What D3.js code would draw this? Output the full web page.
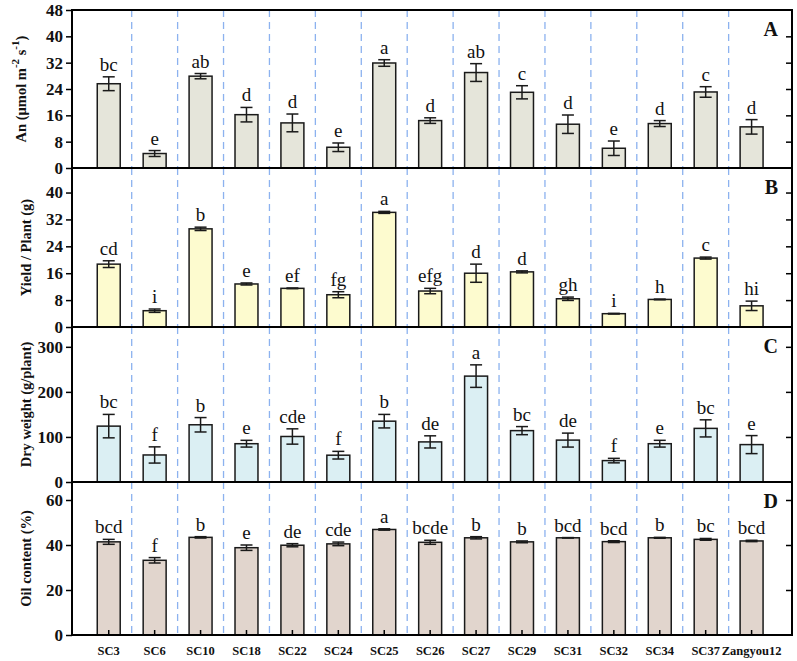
<!DOCTYPE html>
<html>
<head>
<meta charset="utf-8">
<script src="https://cdn.jsdelivr.net/npm/d3@7"></script>
<style>
  body { margin: 0; background: #fff; }
  svg text { font-family: "Liberation Serif", "Times New Roman", serif; }
</style>
</head>
<body>
<div id="chart"></div>
<script>
const categories = ['SC3', 'SC6', 'SC10', 'SC18', 'SC22', 'SC24', 'SC25', 'SC26', 'SC27', 'SC29', 'SC31', 'SC32', 'SC34', 'SC37', 'Zangyou12'];

const anMean = [25.6, 4.4, 27.9, 16.2, 13.7, 6.3, 31.9, 14.4, 29.0, 23.0, 13.3, 6.0, 13.5, 23.1, 12.5];
const anErr = [2.1, 0.9, 0.8, 2.2, 2.7, 1.3, 1.0, 0.85, 2.7, 2.0, 2.8, 2.2, 0.9, 1.6, 2.2];
const anLetters = ['bc', 'e', 'ab', 'd', 'd', 'e', 'a', 'd', 'ab', 'c', 'd', 'e', 'd', 'c', 'd'];

const yieldMean = [18.7, 4.85, 29.2, 12.8, 11.5, 9.6, 34.1, 10.7, 16.0, 16.4, 8.4, 3.96, 8.2, 20.5, 6.3];
const yieldErr = [1.0, 0.5, 0.5, 0.3, 0.1, 0.9, 0.3, 0.8, 2.7, 0.3, 0.5, 0.1, 0.1, 0.3, 1.4];
const yieldLetters = ['cd', 'i', 'b', 'e', 'ef', 'fg', 'a', 'efg', 'd', 'd', 'gh', 'i', 'h', 'c', 'hi'];

const dryMean = [124, 60, 127, 85, 101, 59.5, 135, 89, 235, 114, 93, 47.5, 85, 119, 83];
const dryErr = [26, 18, 16, 7.5, 17, 8.5, 15, 13.5, 25, 9, 15.5, 5, 7.5, 19, 20];
const dryLetters = ['bc', 'f', 'b', 'e', 'cde', 'f', 'b', 'de', 'a', 'bc', 'de', 'f', 'e', 'bc', 'e'];

const oilMean = [41.4, 33.2, 43.4, 38.8, 39.9, 40.5, 46.9, 41.2, 43.2, 41.4, 43.2, 41.5, 43.2, 42.5, 41.8];
const oilErr = [1.1, 1.2, 0.3, 1.2, 0.7, 0.8, 0.3, 0.9, 0.5, 0.4, 0.1, 0.4, 0.2, 0.4, 0.3];
const oilLetters = ['bcd', 'f', 'b', 'e', 'de', 'cde', 'a', 'bcde', 'b', 'b', 'bcd', 'bcd', 'b', 'bc', 'bcd'];

const anTicks = [0, 8, 16, 24, 32, 40, 48];
const yieldTicks = [0, 8, 16, 24, 32, 40];
const dryTicks = [0, 100, 200, 300];
const oilTicks = [0, 20, 40, 60];

const panels = [
  { key: 'A', mean: anMean, err: anErr, letters: anLetters, ticks: anTicks, max: 48, top: 10, bottom: 168, fill: '#e5e5da', title: 'an' },
  { key: 'B', mean: yieldMean, err: yieldErr, letters: yieldLetters, ticks: yieldTicks, max: 47.3, top: 168, bottom: 327, fill: '#fdfbcf', title: 'Yield / Plant (g)' },
  { key: 'C', mean: dryMean, err: dryErr, letters: dryLetters, ticks: dryTicks, max: 344, top: 327, bottom: 482, fill: '#dbeff3', title: 'Dry weight (g/plant)' },
  { key: 'D', mean: oilMean, err: oilErr, letters: oilLetters, ticks: oilTicks, max: 68, top: 482, bottom: 635, fill: '#e1d5cd', title: 'Oil content (%)' }
];

const W = 797, H = 661;
const left = 72, right = 792;

const svg = d3.select('#chart').append('svg')
  .attr('width', W).attr('height', H);

const x = d3.scaleLinear().domain([0.2, 15.88]).range([left, right]);
const idx = d3.range(categories.length);
const barW = x(1.5) - x(1);

panels.forEach(p => {
  const y = d3.scaleLinear().domain([0, p.max]).range([p.bottom, p.top]);
  const g = svg.append('g');

  // dashed separators
  g.selectAll('line.sep')
    .data(d3.range(1, categories.length))
    .join('line')
    .attr('x1', d => x(d + 0.5)).attr('x2', d => x(d + 0.5))
    .attr('y1', p.top).attr('y2', p.bottom)
    .attr('stroke', '#8cb2ef').attr('stroke-width', 1.3)
    .attr('stroke-dasharray', '7,5');

  // bars
  g.selectAll('rect.bar')
    .data(idx)
    .join('rect')
    .attr('x', i => x(i + 1) - barW / 2)
    .attr('y', i => y(p.mean[i]))
    .attr('width', barW)
    .attr('height', i => y(0) - y(p.mean[i]))
    .attr('fill', p.fill)
    .attr('stroke', '#1a1a1a').attr('stroke-width', 1.5);

  // error bars
  const eb = g.selectAll('g.eb').data(idx).join('g').attr('stroke', '#1a1a1a').attr('stroke-width', 1.5);
  eb.append('line')
    .attr('x1', i => x(i + 1)).attr('x2', i => x(i + 1))
    .attr('y1', i => y(p.mean[i] + p.err[i])).attr('y2', i => y(p.mean[i] - p.err[i]));
  eb.append('line')
    .attr('x1', i => x(i + 1) - 6).attr('x2', i => x(i + 1) + 6)
    .attr('y1', i => y(p.mean[i] + p.err[i])).attr('y2', i => y(p.mean[i] + p.err[i]));
  eb.append('line')
    .attr('x1', i => x(i + 1) - 6).attr('x2', i => x(i + 1) + 6)
    .attr('y1', i => y(p.mean[i] - p.err[i])).attr('y2', i => y(p.mean[i] - p.err[i]));

  // significance letters
  g.selectAll('text.sig')
    .data(idx)
    .join('text')
    .attr('x', i => x(i + 1))
    .attr('y', i => y(p.mean[i] + p.err[i]) - 6)
    .attr('text-anchor', 'middle')
    .attr('font-size', 19)
    .attr('fill', '#111')
    .text(i => p.letters[i]);

  // left axis
  const ax = g.append('g')
    .attr('transform', `translate(${left},0)`)
    .call(d3.axisLeft(y).tickValues(p.ticks).tickSize(6).tickPadding(3).tickFormat(d3.format('d')));
  ax.select('.domain').remove();
  ax.selectAll('line').attr('stroke', '#000').attr('stroke-width', 1.5);
  ax.selectAll('text')
    .attr('font-size', 17).attr('font-weight', 'bold').attr('fill', '#111')
    .attr('font-family', '"Liberation Serif", serif');

  // right axis, inward ticks
  const axr = g.append('g')
    .attr('transform', `translate(${right},0)`)
    .call(d3.axisLeft(y).tickValues(p.ticks.filter(t => t > 0 && t < p.max)).tickSize(6).tickFormat(''));
  axr.select('.domain').remove();
  axr.selectAll('line').attr('stroke', '#000').attr('stroke-width', 1.5);

  // frame
  g.append('rect')
    .attr('x', left).attr('y', p.top)
    .attr('width', right - left).attr('height', p.bottom - p.top)
    .attr('fill', 'none').attr('stroke', '#000').attr('stroke-width', 2);

  // panel letter
  g.append('text')
    .attr('x', 778).attr('y', p.top + 26)
    .attr('text-anchor', 'end')
    .attr('font-size', 20).attr('font-weight', 'bold').attr('fill', '#111')
    .text(p.key);

  // y title
  const mid = (p.top + p.bottom) / 2;
  const tt = g.append('text')
    .attr('transform', `translate(${p.key === 'A' ? 26 : 31},${mid}) rotate(-90)`)
    .attr('text-anchor', 'middle')
    .attr('font-size', 14.5).attr('font-weight', 'bold').attr('fill', '#111');
  if (p.title === 'an') {
    tt.append('tspan').text('An (μmol m');
    tt.append('tspan').attr('dy', -7).attr('font-size', 11).text('-2');
    tt.append('tspan').attr('dy', 7).text(' s');
    tt.append('tspan').attr('dy', -7).attr('font-size', 11).text('-1');
    tt.append('tspan').attr('dy', 7).text(')');
  } else {
    tt.text(p.title);
  }
});

// bottom x axis ticks (inward) and labels
const last = panels[panels.length - 1];
const xb = svg.append('g').attr('transform', `translate(0,${last.bottom})`);
xb.selectAll('line')
  .data(idx).join('line')
  .attr('x1', i => x(i + 1)).attr('x2', i => x(i + 1))
  .attr('y1', 0).attr('y2', -5)
  .attr('stroke', '#000').attr('stroke-width', 1.5);
xb.selectAll('text')
  .data(idx).join('text')
  .attr('x', i => x(i + 1)).attr('y', 20)
  .attr('text-anchor', 'middle')
  .attr('font-size', 12.5).attr('font-weight', 'bold').attr('fill', '#111')
  .text(i => categories[i]);
</script>
</body>
</html>
